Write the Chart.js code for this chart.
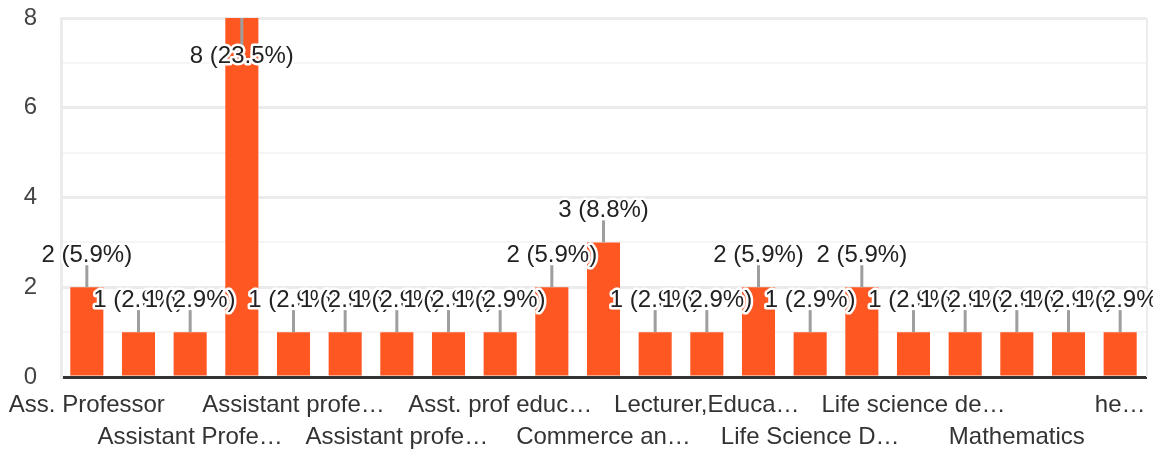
<!DOCTYPE html>
<html>
<head>
<meta charset="utf-8">
<script src="https://cdn.jsdelivr.net/npm/chart.js@4.4.1/dist/chart.umd.min.js"></script>
<style>
  html, body { margin: 0; padding: 0; background: #fff; }
  #wrap { width: 1153px; height: 453px; position: relative; }
</style>
</head>
<body>
<div id="wrap"><canvas id="c" width="1153" height="453"></canvas></div>
<script>
const categories = [
  "Ass. Professor",
  "Assistant Prof",
  "Assistant Profe…",
  "Assistant Professor",
  "Assistant profe…",
  "Assistant professor Education",
  "Assistant profe…",
  "Asst. Professor",
  "Asst. prof educ…",
  "Asst.professor",
  "Commerce an…",
  "Education",
  "Lecturer,Educa…",
  "Life Science",
  "Life Science D…",
  "Life science",
  "Life science de…",
  "Librarian",
  "Mathematics",
  "Physics",
  "he…"
];
const counts = [2, 1, 1, 8, 1, 1, 1, 1, 1, 2, 3, 1, 1, 2, 1, 2, 1, 1, 1, 1, 1];
const yTickLabels = [0, 2, 4, 6, 8];
const total = counts.reduce((a, b) => a + b, 0);

const FONT = "'Liberation Sans', Arial, sans-serif";

function zeroPad(scale) {
  scale.paddingLeft = 0;
  scale.paddingRight = 0;
  scale.paddingTop = 0;
  scale.paddingBottom = 0;
}

const labelPlugin = {
  id: 'barLabels',
  beforeDatasetsDraw(chart) {
    const { ctx, chartArea } = chart;
    ctx.save();
    ctx.strokeStyle = '#ececec';
    ctx.lineWidth = 2;
    ctx.beginPath();
    ctx.moveTo(chartArea.right + 1, chartArea.top);
    ctx.lineTo(chartArea.right + 1, chartArea.bottom);
    ctx.stroke();
    ctx.restore();
  },
  afterDatasetsDraw(chart) {
    const { ctx, chartArea } = chart;
    const meta = chart.getDatasetMeta(0);
    ctx.save();
    ctx.font = "24px " + FONT;
    ctx.textAlign = 'center';
    ctx.textBaseline = 'alphabetic';
    meta.data.forEach((bar, i) => {
      const v = counts[i];
      const pct = (v / total * 100).toFixed(1);
      const txt = v + ' (' + pct + '%)';
      const x = bar.x, top = bar.y;
      let lineEnd, baseY;
      if (top - 45 < chartArea.top) {
        lineEnd = top + 28;
        baseY = top + 45;
      } else {
        lineEnd = top - 22;
        baseY = top - 25;
      }
      ctx.strokeStyle = '#9e9e9e';
      ctx.lineWidth = 3;
      ctx.beginPath();
      ctx.moveTo(x, top);
      ctx.lineTo(x, lineEnd);
      ctx.stroke();
      ctx.lineWidth = 5;
      ctx.lineJoin = 'round';
      ctx.strokeStyle = '#ffffff';
      ctx.strokeText(txt, x, baseY);
      ctx.fillStyle = '#222222';
      ctx.fillText(txt, x, baseY);
    });
    ctx.restore();
  }
};

new Chart(document.getElementById('c'), {
  type: 'bar',
  data: {
    labels: categories,
    datasets: [{
      data: counts,
      backgroundColor: '#ff5722',
      borderWidth: 0,
      barPercentage: 0.64,
      categoryPercentage: 1.0
    }]
  },
  options: {
    responsive: false,
    animation: false,
    layout: { padding: { top: 18, right: 7, left: 0, bottom: 0 } },
    plugins: { legend: { display: false }, tooltip: { enabled: false } },
    scales: {
      x: {
        grid: { display: false, drawTicks: false },
        border: { display: true, color: '#333333', width: 3 },
        ticks: {
          autoSkip: false,
          maxRotation: 0,
          minRotation: 0,
          padding: 12,
          color: '#333333',
          font: { family: FONT, size: 24, lineHeight: 1.333 },
          callback: function (v, i) {
            const lab = categories[i];
            if (i % 4 === 0) return lab;
            if (i % 4 === 2) return ['', lab];
            return '';
          }
        },
        afterFit(scale) { scale.height = 76; zeroPad(scale); }
      },
      y: {
        min: 0,
        max: 8,
        grid: {
          drawTicks: false,
          color: (c) => (c.tick && c.tick.value % 2 === 0) ? '#ebebeb' : '#f5f5f5',
          lineWidth: (c) => (c.tick && c.tick.value % 2 === 0) ? 3 : 2
        },
        border: { display: true, color: '#ebebeb', width: 3 },
        ticks: {
          stepSize: 1,
          padding: 24,
          color: '#444444',
          font: { family: FONT, size: 24 },
          callback: (v) => yTickLabels.includes(v) ? String(v) : ''
        },
        afterFit(scale) { scale.width = 61; zeroPad(scale); }
      }
    }
  },
  plugins: [labelPlugin]
});
</script>
</body>
</html>
